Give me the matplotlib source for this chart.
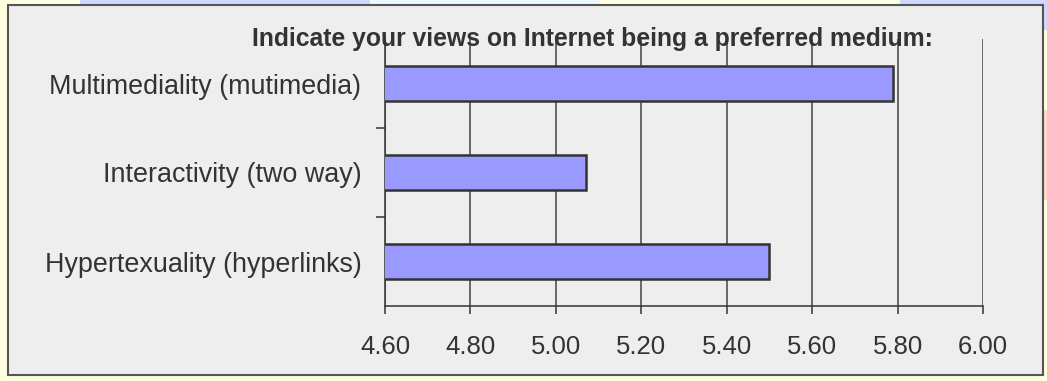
import numpy as np
import matplotlib.pyplot as plt
from matplotlib.patches import Rectangle

# categories from top to bottom
categories = ["Multimediality (mutimedia)", "Interactivity (two way)", "Hypertexuality (hyperlinks)"]
values = [5.79, 5.07, 5.50]
xticks = [4.60, 4.80, 5.00, 5.20, 5.40, 5.60, 5.80, 6.00]
title = "Indicate your views on Internet being a preferred medium:"

plt.rcParams['font.family'] = ['Liberation Sans', 'DejaVu Sans']

W, H = 1047, 381
fig = plt.figure(figsize=(W / 100, H / 100), dpi=100)
fig.patch.set_facecolor("#ffffe0")


def px_rect(x0, y0, x1, y1, **kw):
    # rectangle given in pixel coords (origin top-left)
    r = Rectangle((x0 / W, 1 - y1 / H), (x1 - x0) / W, (y1 - y0) / H,
                  transform=fig.transFigure, **kw)
    fig.patches.append(r)


# slide background bits behind the box
px_rect(80, 0, 370, 6, facecolor="#d0d8ff", linewidth=0, zorder=-10)
px_rect(370, 0, 600, 6, facecolor="#eef8ff", linewidth=0, zorder=-10)
px_rect(900, 0, W, 6, facecolor="#d0d8ff", linewidth=0, zorder=-10)
px_rect(1043, 0, W, 30, facecolor="#d0d8ff", linewidth=0, zorder=-10)
px_rect(1043, 110, W, 200, facecolor="#ffd8d0", linewidth=0, zorder=-10)

# grey chart box
px_rect(8, 5, 1043, 375, facecolor="#eeeeee", edgecolor="#555555",
        linewidth=1.5, zorder=-5)

ax = fig.add_axes([385 / W, 1 - 306 / H, 598 / W, 267 / H])
ax.set_facecolor("#eeeeee")

y = np.arange(len(categories))[::-1]
ax.barh(y, values, height=0.4, color="#9999ff", edgecolor="#333333",
        linewidth=1.8, zorder=3)

ax.set_xlim(4.6, 6.0)
ax.set_ylim(-0.5, len(categories) - 0.5)
ax.set_xticks(xticks)
ax.set_xticklabels([f"{v:.2f}" for v in xticks])
ax.set_yticks(y)
ax.set_yticklabels(categories)
ax.set_yticks([0.5, 1.5], minor=True)

ax.grid(axis="x", color="#444444", linewidth=1.1, zorder=1)
for s in ["top", "right"]:
    ax.spines[s].set_visible(False)
for s in ["left", "bottom"]:
    ax.spines[s].set_color("#333333")
    ax.spines[s].set_linewidth(1.1)

ax.tick_params(axis="y", which="major", length=0, pad=17, labelsize=19.4, colors="#333333")
ax.tick_params(axis="y", which="minor", length=6.5, width=1.1, color="#333333")
ax.tick_params(axis="x", length=6, width=1.1, pad=15, labelsize=18.5,
               color="#333333", labelcolor="#333333")

fig.text(592 / W, 1 - 46 / H, title, ha="center", va="baseline",
         fontsize=17.8, fontweight="bold", color="#333333")

fig.savefig("out.png", dpi=100, facecolor=fig.get_facecolor())
